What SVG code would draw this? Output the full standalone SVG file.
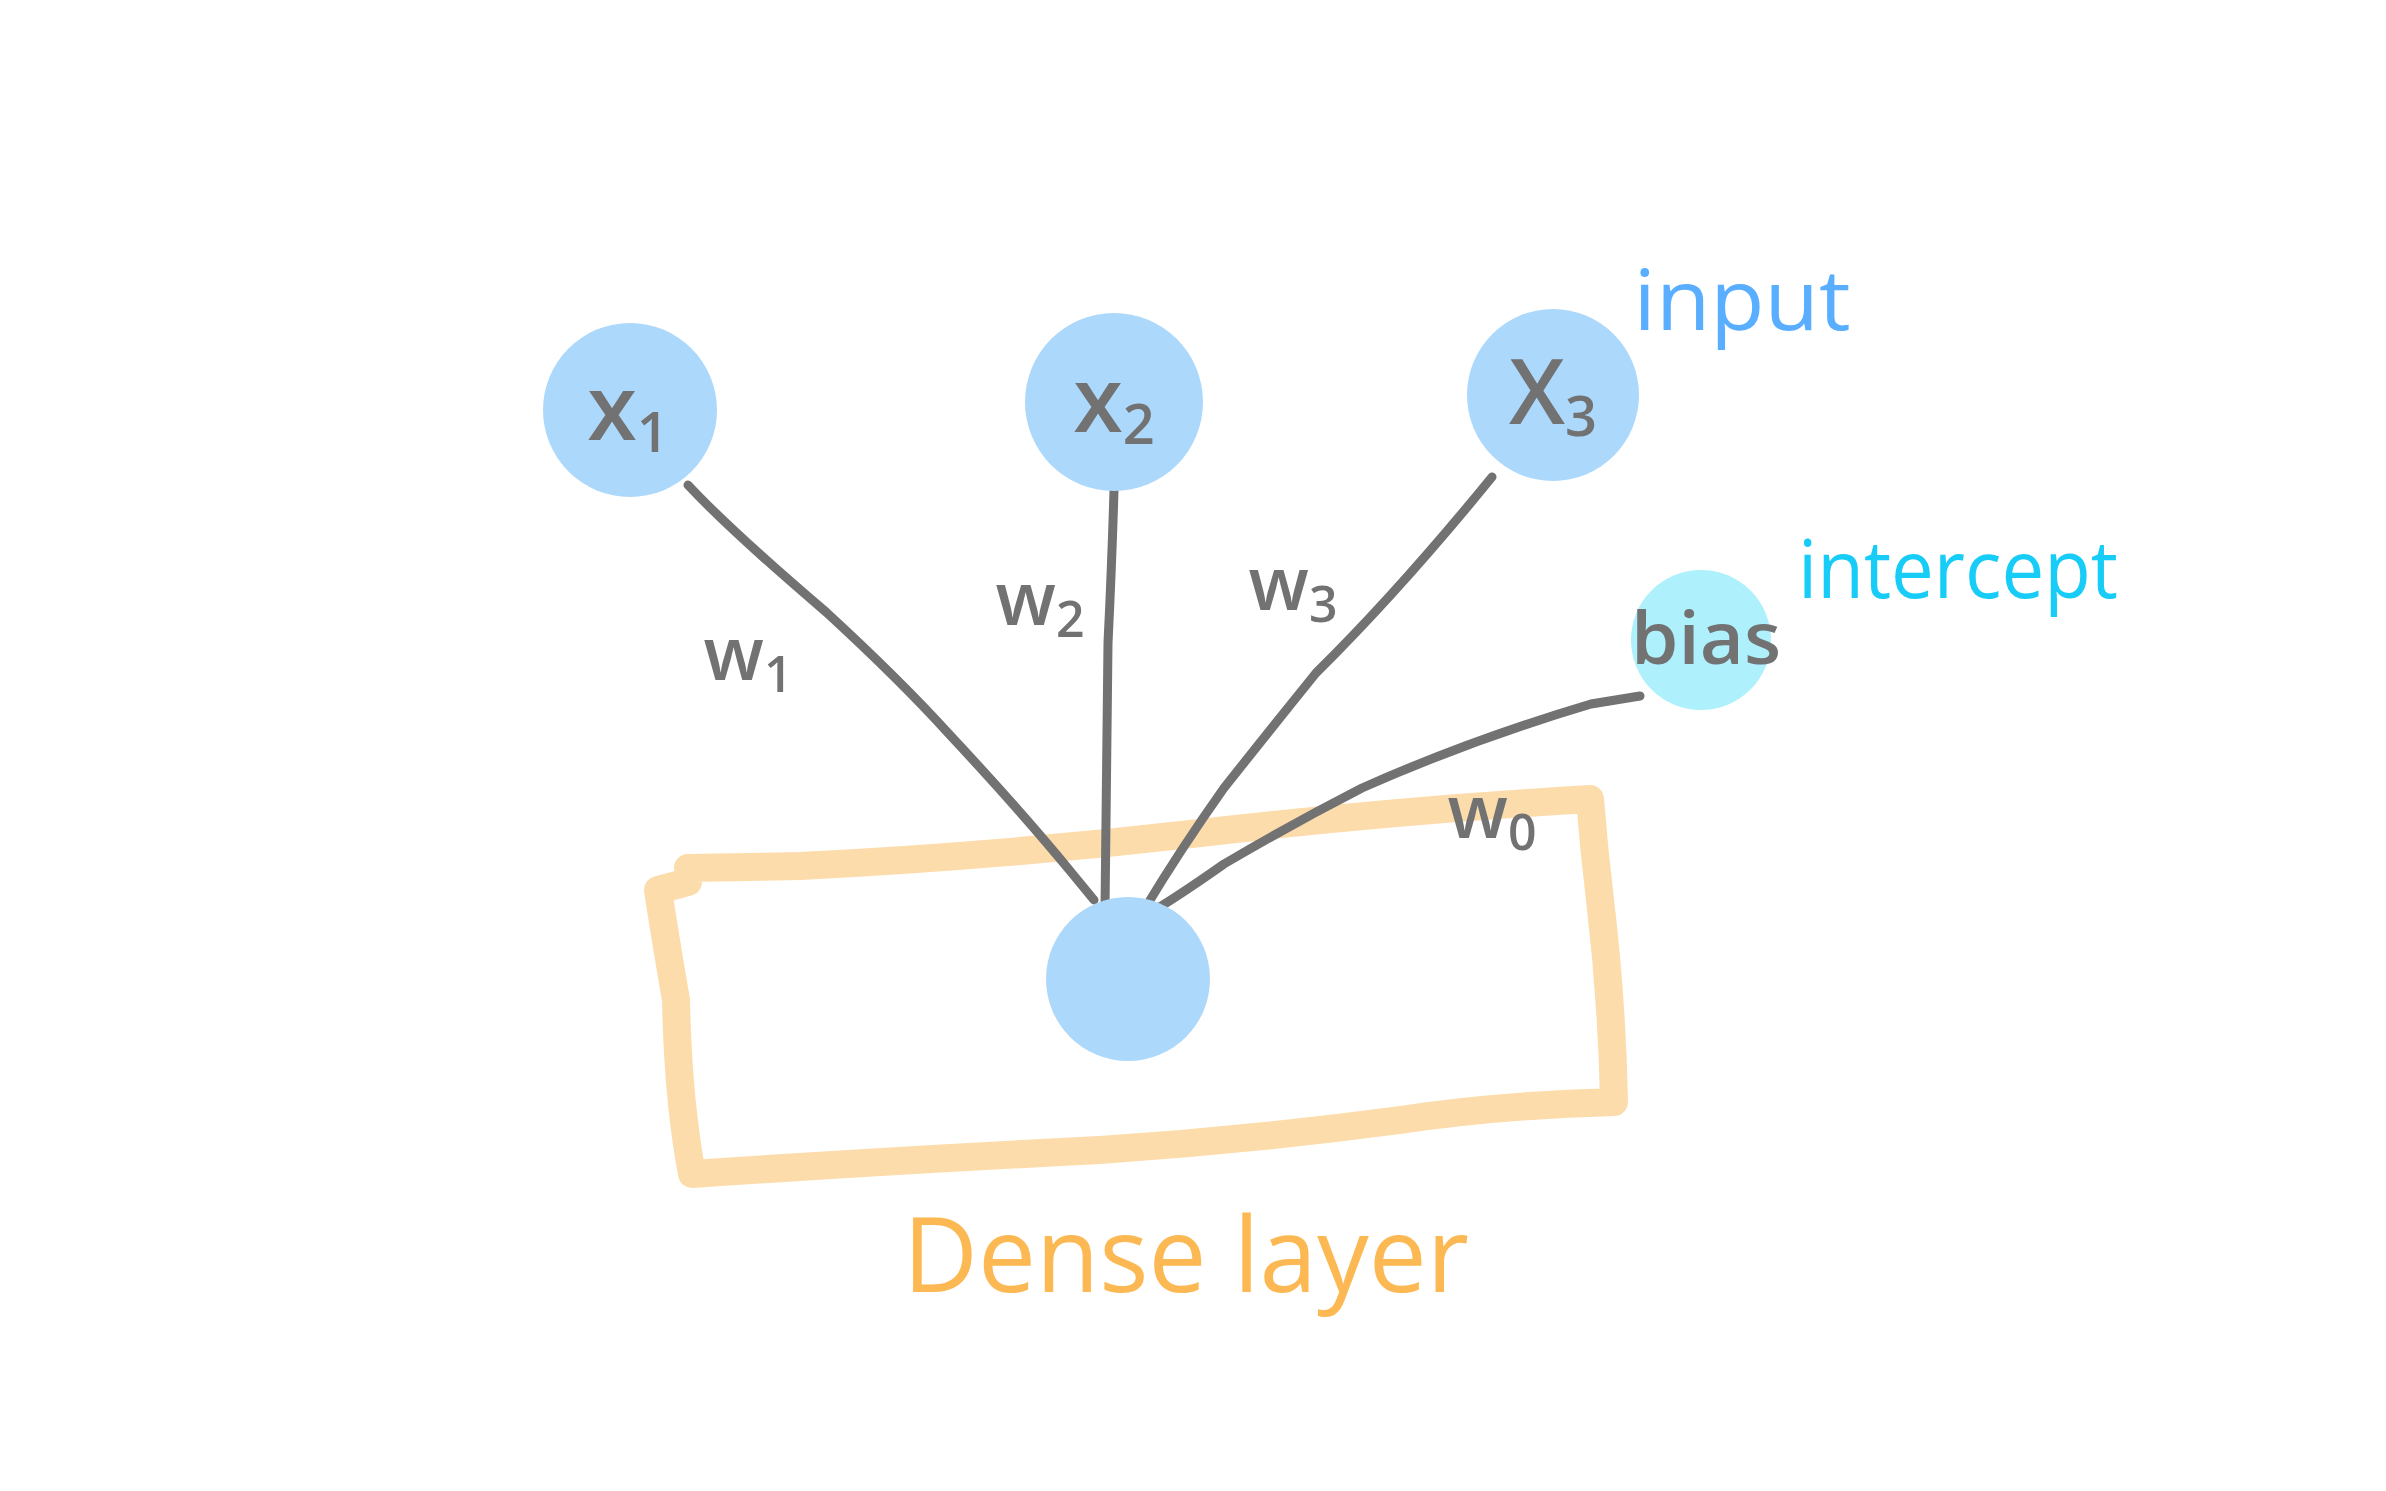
<svg xmlns="http://www.w3.org/2000/svg" width="2386" height="1491" viewBox="0 0 2386 1491">
<style>
.node{fill:#acd8fc}
.bias{fill:#aef0fc}
.edge{fill:none;stroke:#727272;stroke-width:9;stroke-linecap:round;stroke-linejoin:round}
.lbl{font-family:"Open Sans","Liberation Sans",sans-serif;fill:#727272;font-weight:600}
.layer{fill:none;stroke:#fddcab;stroke-width:28;stroke-linecap:round;stroke-linejoin:round}
</style>
<rect width="2386" height="1491" fill="#ffffff"/>
<g id="dense-layer">
<path class="layer" d="M688,868 L800,866 Q1000,856 1200,833 Q1400,810 1590,799 Q1594,850 1600,900 Q1612,1000 1614,1102 Q1500,1105 1400,1120 Q1250,1140 1100,1150 Q900,1160 692,1174 Q678,1100 676,1000 Q664,930 658,890 L688,882"/>
<text x="1186" y="1292" text-anchor="middle" font-family="Open Sans, Liberation Sans, sans-serif" font-size="104" fill="#fcb953" textLength="566" lengthAdjust="spacingAndGlyphs">Dense layer</text>
</g>
<g id="connectors">
<path class="edge" d="M688,485 Q730,530 826,612 Q900,680 949,734 Q1020,810 1071,872 L1094,900"/>
<path class="edge" d="M1114,490 Q1112,560 1108,643 Q1106,800 1105,910"/>
<path class="edge" d="M1492,477 Q1400,590 1316,673 Q1270,730 1224,788 Q1180,850 1144,910"/>
<path class="edge" d="M1640,696 L1591,704 Q1470,740 1362,788 Q1290,825 1224,864 Q1180,895 1150,913"/>
</g>
<g id="x1">
<circle class="node" cx="630" cy="410" r="87"/>
<text class="lbl" x="628" y="440" text-anchor="middle" font-size="90">x<tspan font-size="56" dy="12">1</tspan></text>
</g>
<g id="x2">
<circle class="node" cx="1114" cy="402" r="89"/>
<text class="lbl" x="1114" y="432" text-anchor="middle" font-size="90">x<tspan font-size="56" dy="12">2</tspan></text>
</g>
<g id="x3">
<circle class="node" cx="1553" cy="395" r="86"/>
<text class="lbl" x="1553" y="424" text-anchor="middle" font-size="90">X<tspan font-size="56" dy="12">3</tspan></text>
</g>
<g id="bias">
<circle class="bias" cx="1701" cy="640" r="70"/>
<text class="lbl" x="1706" y="664" text-anchor="middle" font-size="72" textLength="150" lengthAdjust="spacingAndGlyphs">bias</text>
</g>
<g id="output">
<circle class="node" cx="1128" cy="979" r="82"/>
</g>
<g id="labels">
<text class="lbl" x="748" y="680" text-anchor="middle" font-size="74">w<tspan font-size="50" dy="12">1</tspan></text>
<text class="lbl" x="1040" y="625" text-anchor="middle" font-size="74">w<tspan font-size="50" dy="12">2</tspan></text>
<text class="lbl" x="1293" y="610" text-anchor="middle" font-size="74">w<tspan font-size="50" dy="12">3</tspan></text>
<text class="lbl" x="1492" y="838" text-anchor="middle" font-size="74">w<tspan font-size="50" dy="12">0</tspan></text>
<text x="1742" y="330" text-anchor="middle" font-family="Open Sans, Liberation Sans, sans-serif" font-size="84" fill="#5aaeff" textLength="217" lengthAdjust="spacingAndGlyphs">input</text>
<text x="1958" y="598" text-anchor="middle" font-family="Open Sans, Liberation Sans, sans-serif" font-size="80" fill="#17cdf7" textLength="320" lengthAdjust="spacingAndGlyphs">intercept</text>
</g>
</svg>
